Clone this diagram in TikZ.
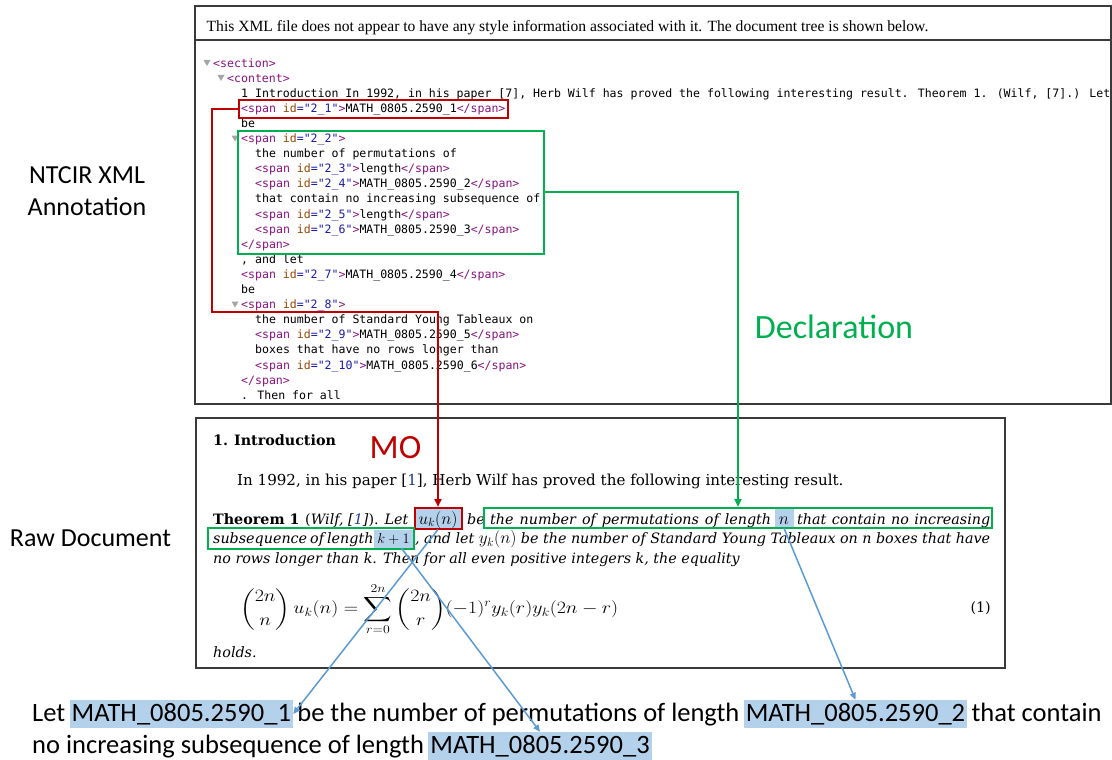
\documentclass[tikz,border=0pt]{standalone}
\usepackage{amsmath}
\usepackage{fontspec}
\usepackage{graphicx}
\usetikzlibrary{arrows.meta,fit,calc}

\newfontfamily\xmlmono{DejaVu Sans Mono}
\newfontfamily\hdrserif{Liberation Serif}
\newfontfamily\calibri{Carlito}
\newfontfamily\paperfont{DejaVu Serif}

\definecolor{moRed}{HTML}{C00000}
\definecolor{declGreen}{HTML}{00B050}
\definecolor{linkBlue}{HTML}{5B9BD5}
\definecolor{hlBlue}{HTML}{B4D1EC}
\definecolor{xtag}{HTML}{881280}
\definecolor{xatt}{HTML}{994500}
\definecolor{xval}{HTML}{1A1AA6}
\definecolor{citeBlue}{HTML}{1F3A93}
\definecolor{frameGray}{HTML}{3A3A3A}

% XML viewer markup helpers
\newcommand\xtg[1]{\textcolor{xtag}{#1}}
\newcommand\xspanopen[1]{\xtg{<span }\textcolor{xatt}{id}\textcolor{xval}{="#1"}\xtg{>}}
\newcommand\xspan[2]{\xspanopen{#1}#2\xtg{</span>}}
% inline math matched to the x-height of the paper font
\newcommand\pmath[1]{{\fontsize{17.28}{17}\selectfont$#1$}}

\begin{document}
\begin{tikzpicture}[x=1pt,y=-1pt,
  xml/.style={anchor=base west, inner sep=0pt, font=\xmlmono\fontsize{11.55}{14}\selectfont},
  paper/.style={anchor=base west, inner sep=0pt, font=\paperfont\fontsize{14.3}{17}\selectfont},
  sidetext/.style={font=\calibri\fontsize{26}{32}\selectfont, align=center, inner sep=0pt},
  bigtag/.style={font=\calibri\fontsize{34}{40}\selectfont, inner sep=0pt, anchor=base},
  bottomtext/.style={anchor=base west, inner sep=0pt, font=\calibri\fontsize{26.5}{32}\selectfont},
  hl/.style={fill=hlBlue, inner xsep=2pt, inner ysep=1.5pt},
  redbox/.style={draw=moRed, line width=2pt},
  greenbox/.style={draw=declGreen, line width=2pt},
  frame/.style={draw=frameGray, line width=1.3pt},
  fold/.style={fill=gray!70},
  redlink/.style={draw=moRed, line width=2pt, -{Triangle[length=8pt,width=7pt]}},
  greenlink/.style={draw=declGreen, line width=2pt, -{Triangle[length=8pt,width=7pt]}},
  bluelink/.style={draw=linkBlue, line width=1.5pt, -{Triangle[length=7pt,width=6pt]}}
]
\useasboundingbox (0,0) rectangle (1112,760);

% ---------- XML viewer panel ----------
\draw[frame] (195,6) rectangle (1111,404);
\draw[frameGray, line width=2pt] (195,40) -- (1111,40);
\node[anchor=base west, inner sep=0pt, font=\hdrserif\fontsize{15.6}{18}\selectfont] (hdr) at (206.5,31.5)
  {This XML file does not appear to have any style information associated with it. The document tree is shown below.};

% fold triangles
\fill[fold] (203.5,60) -- (210.5,60) -- (207,66) -- cycle;
\fill[fold] (217.5,75) -- (224.5,75) -- (221,81) -- cycle;
\fill[fold] (231.5,135.5) -- (238.5,135.5) -- (235,141.5) -- cycle;
\fill[fold] (231.5,301.5) -- (238.5,301.5) -- (235,307.5) -- cycle;

\node[xml] (x0) at (213,67) {\xtg{<section>}};
\node[xml] (x1) at (227,82.1) {\xtg{<content>}};
\node[xml] (x2) at (241,97.2) {1 Introduction In 1992, in his paper [7], Herb Wilf has proved the following interesting result. Theorem 1. (Wilf, [7].) Let};
\node[xml] (x21) at (241,112.3) {\xspan{2\_1}{MATH\_0805.2590\_1}};
\node[xml] (x4) at (241,127.4) {be};
\node[xml] (x22) at (241,142.5) {\xspanopen{2\_2}};
\node[xml] (x6) at (255,157.6) {the number of permutations of};
\node[xml] (x23) at (255,172.7) {\xspan{2\_3}{length}};
\node[xml] (x24) at (255,187.8) {\xspan{2\_4}{MATH\_0805.2590\_2}};
\node[xml] (x9) at (255,202.9) {that contain no increasing subsequence of};
\node[xml] (x25) at (255,218) {\xspan{2\_5}{length}};
\node[xml] (x26) at (255,233.1) {\xspan{2\_6}{MATH\_0805.2590\_3}};
\node[xml] (x22end) at (241,248.2) {\xtg{</span>}};
\node[xml] (x13) at (241,263.3) {, and let};
\node[xml] (x27) at (241,278.4) {\xspan{2\_7}{MATH\_0805.2590\_4}};
\node[xml] (x15) at (241,293.5) {be};
\node[xml] (x28) at (241,308.6) {\xspanopen{2\_8}};
\node[xml] (x17) at (255,323.7) {the number of Standard Young Tableaux on};
\node[xml] (x29) at (255,338.8) {\xspan{2\_9}{MATH\_0805.2590\_5}};
\node[xml] (x19) at (255,353.9) {boxes that have no rows longer than};
\node[xml] (x210) at (255,369) {\xspan{2\_10}{MATH\_0805.2590\_6}};
\node[xml] (x28end) at (241,384.1) {\xtg{</span>}};
\node[xml] (x22b) at (241,399.2) {. Then for all};

\node[redbox, fit=(x21), inner xsep=2.5pt, inner ysep=3pt] (x21box) {};
\node[greenbox, fit=(x22)(x9)(x22end), inner xsep=3pt, inner ysep=3pt] (x22box) {};

% ---------- side labels ----------
\node[sidetext] (lblxml) at (87,191) {NTCIR XML\\Annotation};
\node[sidetext, anchor=base] (lblraw) at (90.5,546) {Raw Document};

% ---------- rendered paper panel ----------
\draw[frame] (196,418) rectangle (1005,668);

\node[paper, font=\paperfont\bfseries\fontsize{14.3}{17}\selectfont] (intro) at (213,445) {1.\hspace{6pt}Introduction};
\node[paper, font=\paperfont\fontsize{15.1}{18}\selectfont] (para) at (237,485) {In 1992, in his paper [\textcolor{citeBlue}{1}], Herb Wilf has proved the following interesting result.};

% theorem, first line
\node[paper] (thm) at (213,524) {\textbf{Theorem 1}};
\node[paper] (thmcite) at (305,524) {(\textit{Wilf, [\textcolor{citeBlue}{1}]}). \textit{Let}};
\node[hl, redbox, anchor=base, text height=14.5pt, text depth=3pt, inner ysep=1.5pt, minimum width=47pt,
      font=\fontsize{17.28}{20}\selectfont] (rawu) at (438,524) {$u_k(n)$};
\node[paper] (t1b) at (467,524) {\textit{be}};
\node[hl, anchor=base, text height=14pt, text depth=3pt, inner ysep=1pt, minimum width=19pt,
      font=\fontsize{17.28}{20}\selectfont] (rawn) at (784,524) {$n$};
\node[paper] (t1c) at (490,524) {\makebox[281pt][s]{\itshape the number of permutations of length}};
\node[paper] (t1d) at (797,524) {\makebox[193pt][s]{\itshape that contain no increasing}};

% theorem, second line
\node[hl, anchor=base, text height=12.5pt, text depth=3.5pt, inner ysep=1pt, inner xsep=1pt, minimum width=39pt,
      font=\fontsize{15.5}{18}\selectfont] (rawk) at (393.5,543.5) {$k+1$};
\node[paper] (t2a) at (213,543.5) {\makebox[155pt][s]{\itshape subsequence of length}};
\node[paper] (t2b) at (415,543.5) {\makebox[575pt][s]{\itshape , and let \pmath{y_k(n)} be the number of Standard Young Tableaux on n boxes that have}};

% theorem, third line
\node[paper] (t3) at (213,563) {\itshape no rows longer than k. Then for all even positive integers k, the equality};

\node[anchor=west, inner sep=0pt, font=\fontsize{17}{20}\selectfont] (eqn) at (240,609)
  {\scalebox{1.15}[1]{$\displaystyle \binom{2n}{n}\, u_k(n) = \sum_{r=0}^{2n} \binom{2n}{r} (-1)^r y_k(r) y_k(2n-r)$}};
\node[anchor=east, inner sep=0pt, font=\paperfont\fontsize{14.3}{17}\selectfont] (eqno) at (991,608) {(1)};
\node[paper] (holds) at (213,657) {\itshape holds.};

% declaration frames in the paper text
\node[greenbox, minimum width=508pt, minimum height=20pt, inner sep=0pt] (decl1) at (738,518) {};
\node[greenbox, minimum width=206pt, minimum height=21pt, inner sep=0pt] (decl2) at (311,538.5) {};

% ---------- annotation tags ----------
\node[bigtag, text=moRed] (molbl) at (395.5,458) {MO};
\node[bigtag, text=declGreen] (decllbl) at (834,338) {Declaration};

% ---------- linearised sentence ----------
\node[bottomtext] (b1) at (32,721) {Let};
\node[bottomtext, hl, text height=19.5pt, text depth=5.5pt] (m1) at ([xshift=4pt]b1.base east) {MATH\_0805.2590\_1};
\node[bottomtext] (b2) at ([xshift=4pt]m1.base east) {be the number of permutations of length};
\node[bottomtext, hl, text height=19.5pt, text depth=5.5pt] (m2) at ([xshift=4pt]b2.base east) {MATH\_0805.2590\_2};
\node[bottomtext] (b3) at ([xshift=4pt]m2.base east) {that contain};
\node[bottomtext] (b4) at (32,753) {no increasing subsequence of length};
\node[bottomtext, hl, text height=19.5pt, text depth=5.5pt] (m3) at ([xshift=4pt]b4.base east) {MATH\_0805.2590\_3};

% ---------- connectors ----------
\coordinate (redturn) at (212,312);
\draw[redlink] (x21box.west) -| (redturn) -| (rawu.north);
\draw[greenlink] (x22box.east) -| (decl1.north);
\draw[bluelink] (rawu.south) -- (m1.east);
\draw[bluelink] ([xshift=8pt]rawk.south) -- (m3.north);
\draw[bluelink] (rawn.south) -- (m2.north);
\end{tikzpicture}
\end{document}
